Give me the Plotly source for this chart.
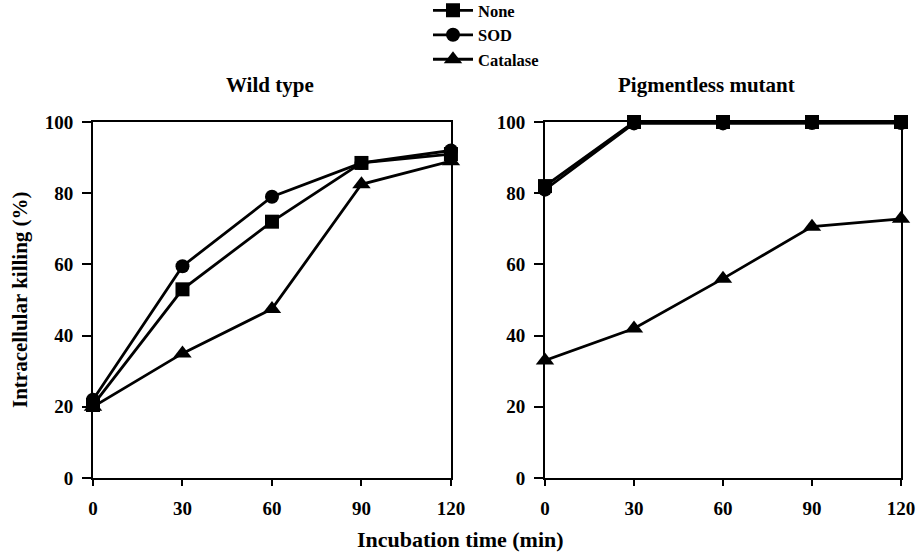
import plotly.graph_objects as go
from plotly.subplots import make_subplots

times = [0, 30, 60, 90, 120]
series_names = ["None", "SOD", "Catalase"]
wild_none = [20.5, 53, 72, 88.5, 91]
wild_sod = [22, 59.5, 79, 88.5, 92]
wild_catalase = [20, 35, 47.5, 82.5, 89]
mut_none = [82, 100, 100, 100, 100]
mut_sod = [81, 99.6, 99.6, 99.7, 99.7]
mut_catalase = [33, 42, 56, 70.6, 72.8]
x_ticks = [0, 30, 60, 90, 120]
y_ticks = [0, 20, 40, 60, 80, 100]
symbols = ["square", "circle", "triangle-up"]
marker_sizes = [14, 14, 16]

FONT = "Liberation Serif"

fig = make_subplots(rows=1, cols=2, horizontal_spacing=0.1164)
fig.update_layout(xaxis=dict(domain=[0, 0.443]), xaxis2=dict(domain=[0.5594, 1.0]))

panels = [(wild_none, wild_sod, wild_catalase), (mut_none, mut_sod, mut_catalase)]
for col, data in enumerate(panels, start=1):
    for name, vals, sym, ms in zip(series_names, data, symbols, marker_sizes):
        fig.add_trace(go.Scatter(
            x=times, y=vals, name=name, mode="lines+markers",
            line=dict(color="black", width=2.8),
            marker=dict(symbol=sym, size=ms, color="black"),
            cliponaxis=False, legendgroup=name, showlegend=(col == 1)),
            row=1, col=col)

axis_common = dict(showline=True, linecolor="black", linewidth=2, mirror=True,
                   ticks="outside", tickwidth=1.5, tickcolor="black",
                   showgrid=False, zeroline=False, automargin=False,
                   tickfont=dict(family=FONT, size=19, color="black", weight="bold"))
for col in (1, 2):
    fig.update_xaxes(range=[0, 120], tickvals=x_ticks, ticktext=[str(t) for t in x_ticks],
                     ticklen=6, ticklabelstandoff=6, **axis_common, row=1, col=col)
    fig.update_yaxes(range=[0, 100], tickvals=y_ticks, ticktext=[str(t) for t in y_ticks],
                     ticklen=9, ticklabelstandoff=5, **axis_common, row=1, col=col)

fig.update_layout(
    width=921, height=557,
    margin=dict(l=93, r=20, t=122, b=79, autoexpand=False),
    paper_bgcolor="white", plot_bgcolor="white",
    font=dict(family=FONT, color="black"),
    legend=dict(x=0.4146, y=1.362, xanchor="left", yanchor="top",
                font=dict(family=FONT, size=16.5, color="black", weight="bold"),
                bgcolor="rgba(0,0,0,0)", itemwidth=40, tracegroupgap=0),
    annotations=[
        dict(text="<b>Wild type</b>", x=0.219, y=1.104, xref="paper", yref="paper",
             xanchor="center", yanchor="middle",
             showarrow=False, font=dict(family=FONT, size=21, color="black")),
        dict(text="<b>Pigmentless mutant</b>", x=0.759, y=1.104, xref="paper", yref="paper",
             xanchor="center", yanchor="middle",
             showarrow=False, font=dict(family=FONT, size=21, color="black")),
        dict(text="<b>Intracellular killing (%)</b>", x=-0.0903, y=0.5, xref="paper", yref="paper",
             xanchor="center", yanchor="middle",
             textangle=-90, showarrow=False, font=dict(family=FONT, size=21, color="black")),
        dict(text="<b>Incubation time (min)</b>", x=0.455, y=-0.172, xref="paper", yref="paper",
             xanchor="center", yanchor="middle",
             showarrow=False, font=dict(family=FONT, size=22, color="black")),
    ],
)

fig.write_html("out.html", config={"displayModeBar": False},
               post_script="document.body.style.margin='0px';")
